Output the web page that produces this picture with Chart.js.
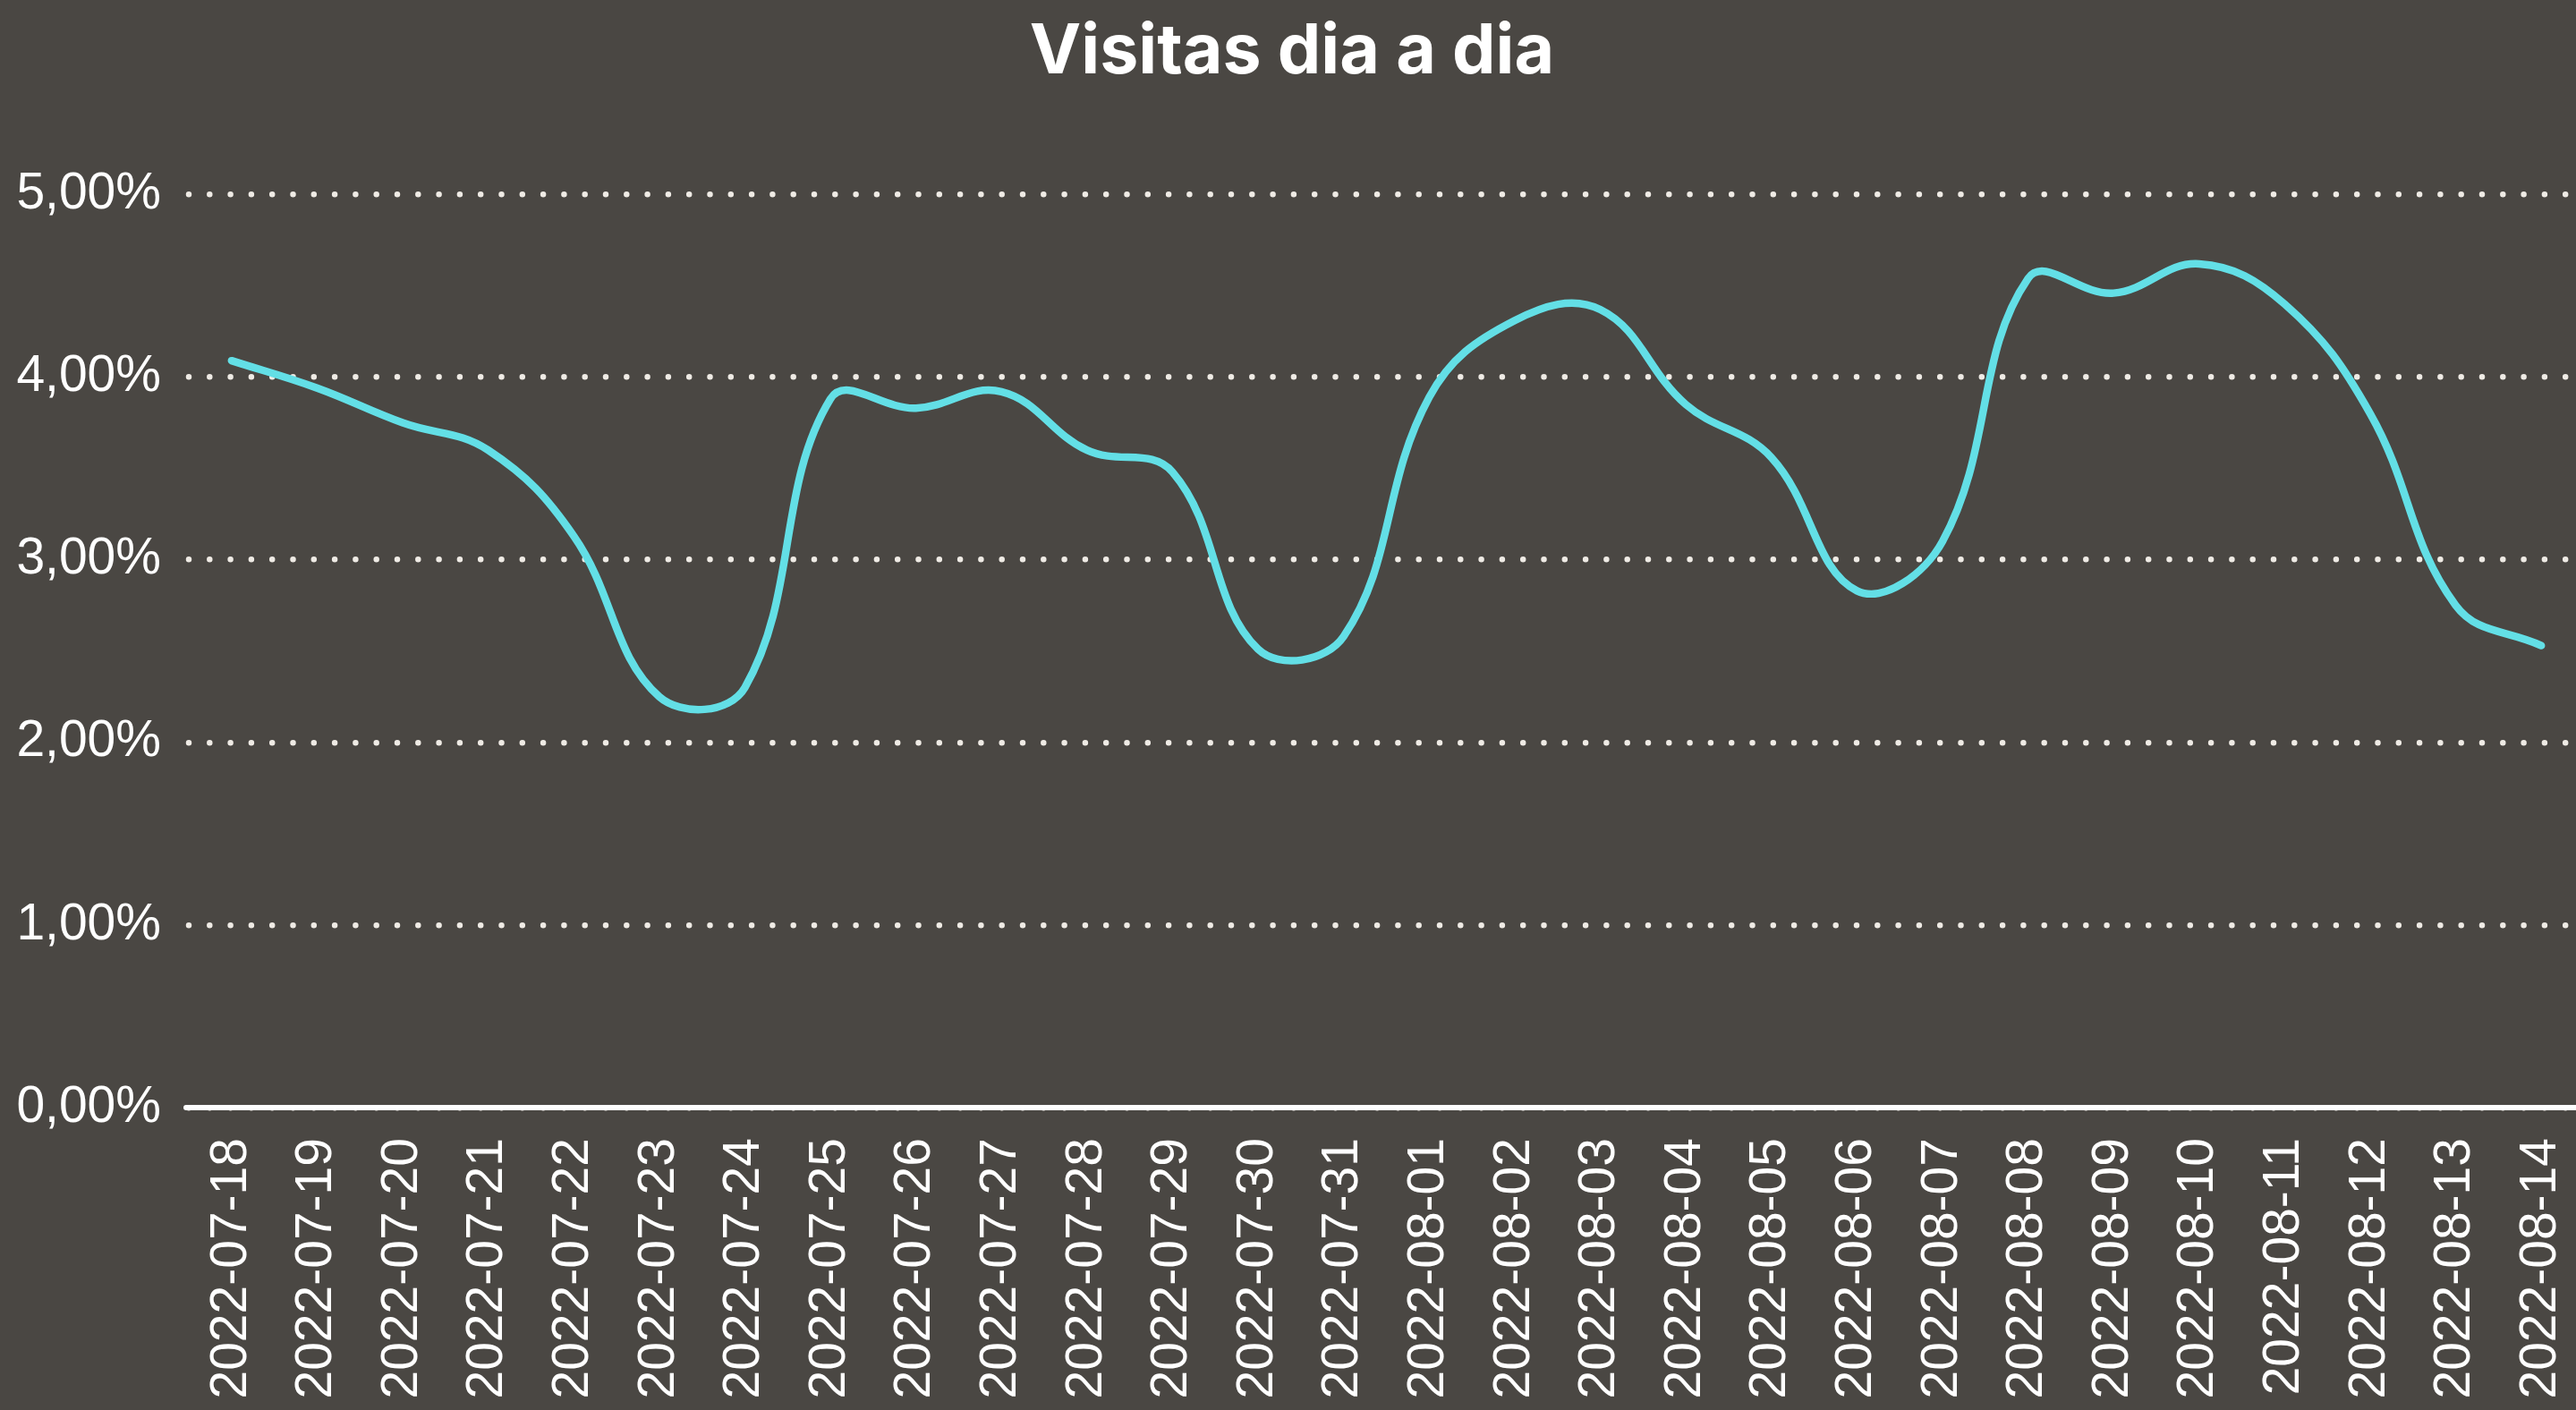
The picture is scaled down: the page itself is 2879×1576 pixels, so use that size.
<!DOCTYPE html>
<html>
<head>
<meta charset="utf-8">
<script src="https://cdn.jsdelivr.net/npm/chart.js@4.4.1/dist/chart.umd.min.js"></script>
<style>
  html, body { margin: 0; padding: 0; background: #4a4743; overflow: hidden; }
  #wrap { position: absolute; left: 0; top: 0; width: 2888px; height: 1576px; }
  canvas { display: block; }
</style>
</head>
<body>
<div id="wrap"><canvas id="c" width="2888" height="1576"></canvas></div>
<script>
const categories = [
  "2022-07-18","2022-07-19","2022-07-20","2022-07-21","2022-07-22","2022-07-23","2022-07-24",
  "2022-07-25","2022-07-26","2022-07-27","2022-07-28","2022-07-29","2022-07-30","2022-07-31",
  "2022-08-01","2022-08-02","2022-08-03","2022-08-04","2022-08-05","2022-08-06","2022-08-07",
  "2022-08-08","2022-08-09","2022-08-10","2022-08-11","2022-08-12","2022-08-13","2022-08-14"
];
const visitsPct = [
  4.09, 3.94, 3.75, 3.60, 3.13, 2.25, 2.30,
  3.88, 3.83, 3.92, 3.60, 3.48, 2.51, 2.58,
  3.89, 4.31, 4.37, 3.85, 3.56, 2.83, 3.10,
  4.54, 4.46, 4.62, 4.40, 3.80, 2.75, 2.53
];
const yTicks = [0, 1, 2, 3, 4, 5];
const titleText = "Visitas dia a dia";

const roundCaps = {
  id: 'roundCaps',
  beforeDraw(chart) { chart.ctx.lineCap = 'round'; }
};

new Chart(document.getElementById('c'), {
  type: 'line',
  data: {
    labels: categories,
    datasets: [{
      data: visitsPct,
      borderColor: '#63dfe6',
      borderWidth: 8.5,
      borderCapStyle: 'round',
      borderJoinStyle: 'round',
      tension: 0.4,
      pointRadius: 0,
      fill: false
    }]
  },
  options: {
    responsive: false,
    animation: false,
    devicePixelRatio: 1,
    layout: { padding: 0 },
    plugins: {
      legend: { display: false },
      tooltip: { enabled: false },
      title: {
        display: true,
        text: titleText,
        color: '#ffffff',
        font: { family: 'Inter', size: 77, weight: '700' },
        padding: { top: 13, bottom: 112 }
      }
    },
    scales: {
      x: {
        type: 'category',
        offset: true,
        grid: { display: true, drawOnChartArea: false, drawTicks: false, lineWidth: 0 },
        border: { display: true, color: '#ffffff', width: 6 },
        ticks: {
          color: '#ffffff',
          font: { family: 'Liberation Sans', size: 57 },
          minRotation: 90,
          maxRotation: 90,
          autoSkip: false,
          padding: 34
        },
        afterFit(scale) { scale.height = 338; scale.paddingLeft = 0; scale.paddingRight = 0; }
      },
      y: {
        min: 0,
        max: 5,
        afterBuildTicks(scale) { scale.ticks = yTicks.map(v => ({ value: v })); },
        grid: { display: true, color: '#efebe5', lineWidth: 6.5, drawTicks: false },
        border: { display: false, dash: [0, 23.3] },
        ticks: {
          color: '#ffffff',
          font: { family: 'Liberation Sans', size: 57 },
          padding: 31,
          callback: v => v.toFixed(2).replace('.', ',') + '%'
        },
        afterFit(scale) { scale.width = 211; scale.paddingTop = 0; scale.paddingBottom = 0; }
      }
    }
  },
  plugins: [roundCaps]
});
</script>
</body>
</html>
